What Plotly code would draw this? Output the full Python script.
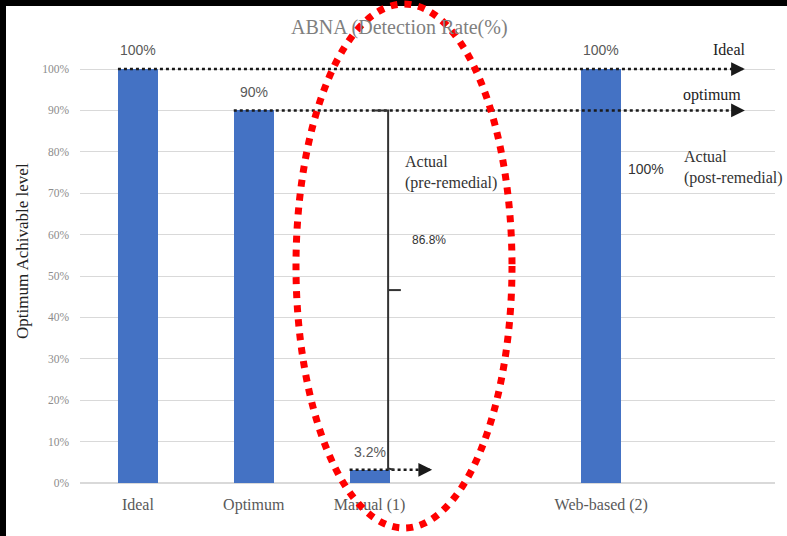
import plotly.graph_objects as go

# ---- data ----
categories = ["Ideal", "Optimum", "Manual (1)", "Web-based (2)"]
cat_pos = [0, 1, 2, 4]
values = [100, 90, 3.2, 100]
value_labels = ["100%", "90%", "3.2%", "100%"]
ideal_level = 100
optimum_level = 90
manual_level = 3.2
gap_label = "86.8%"
post_label = "100%"
y_ticks = [0, 10, 20, 30, 40, 50, 60, 70, 80, 90, 100]

BAR_W = 0.345
SERIF = "Liberation Serif, Times New Roman, serif"
SANS = "Liberation Sans, Arial, sans-serif"
DOT = "#1a1a1a"

fig = go.Figure()

fig.add_trace(go.Bar(x=cat_pos, y=values, width=BAR_W, marker_color="#4472C4",
                     marker_line_width=0, showlegend=False, hoverinfo="skip"))

# dotted reference lines
def dotted(x0, x1, y):
    fig.add_trace(go.Scatter(x=[x0, x1], y=[y, y], mode="lines",
                             line=dict(color=DOT, width=2.5, dash="dot"),
                             showlegend=False, hoverinfo="skip"))

end_x = 5.22
dotted(cat_pos[0] - BAR_W / 2, end_x, ideal_level)
dotted(cat_pos[1] - BAR_W / 2, end_x, optimum_level)
dotted(cat_pos[2] - BAR_W / 2, 2.52, manual_level)

# bracket
bx = 2.16
mid = (optimum_level + manual_level) / 2
fig.add_trace(go.Scatter(
    x=[2.04, bx, bx, None, bx, 2.27, None, bx, 2.21],
    y=[optimum_level, optimum_level, manual_level, None, mid, mid, None,
       manual_level + 0.3, manual_level],
    mode="lines", line=dict(color="#333333", width=2),
    showlegend=False, hoverinfo="skip"))

annotations = []
# arrow heads
for (x, y) in [(end_x + 0.02, ideal_level), (end_x + 0.02, optimum_level), (2.54, manual_level)]:
    annotations.append(dict(x=x, y=y, xref="x", yref="y", ax=-8, ay=0, text="",
                            showarrow=True, arrowhead=2, arrowsize=1.1, arrowwidth=2.5,
                            arrowcolor=DOT))

# bar value labels
label_y = [104.6, 94.4, 7.5, 104.6]
for xp, lab, ly in zip(cat_pos, value_labels, label_y):
    annotations.append(dict(x=xp, y=ly, xref="x", yref="y", text=lab, showarrow=False,
                            font=dict(family=SANS, size=14, color="#595959")))

annotations += [
    dict(x=5.11, y=104.6, text="Ideal", font=dict(family=SERIF, size=16, color="#222")),
    dict(x=4.96, y=93.7, text="optimum", font=dict(family=SERIF, size=16, color="#222")),
    dict(x=2.29, y=75.1, text="Actual<br>(pre-remedial)", xanchor="left", align="left",
         font=dict(family=SERIF, size=16, color="#333")),
    dict(x=2.35, y=58.7, text=gap_label, xanchor="left",
         font=dict(family=SANS, size=12, color="#333")),
    dict(x=4.215, y=75.8, text=post_label, xanchor="left",
         font=dict(family=SANS, size=14, color="#333")),
    dict(x=4.70, y=76.3, text="Actual<br>(post-remedial)", xanchor="left", align="left",
         font=dict(family=SERIF, size=16, color="#333")),
]
for a in annotations[-6:]:
    a.update(xref="x", yref="y", showarrow=False)

# title and y-axis title (paper coords: px -> (px-80)/695, py -> (483-py)/443)
annotations.append(dict(x=(399 - 80) / 695, y=(483 - 28) / 443, xref="paper", yref="paper",
                        text="ABNA (Detection Rate(%)", showarrow=False, yanchor="middle",
                        font=dict(family=SERIF, size=20, color="#7f7f7f")))
annotations.append(dict(x=(22 - 80) / 695, y=(483 - 251) / 443, xref="paper", yref="paper",
                        text="Optimum Achivable level", showarrow=False, textangle=-90,
                        xanchor="center", yanchor="middle",
                        font=dict(family=SERIF, size=17, color="#222")))

shapes = [
    # black frame strips (top and left)
    dict(type="rect", xref="paper", yref="paper", x0=-0.2, x1=1.2,
         y0=(483 - 6) / 443, y1=1.3, fillcolor="black", line_width=0, layer="above"),
    dict(type="rect", xref="paper", yref="paper", x0=-0.2, x1=(6 - 80) / 695,
         y0=-0.3, y1=1.3, fillcolor="black", line_width=0, layer="above"),
    # red dotted ellipse
    dict(type="circle", xref="paper", yref="paper",
         x0=(296 - 80) / 695, x1=(512 - 80) / 695,
         y0=(483 - 528) / 443, y1=(483 - 4) / 443,
         line=dict(color="#ff0000", width=7, dash="dot"), layer="above"),
]

fig.update_layout(
    width=787, height=536,
    margin=dict(l=80, r=12, t=40, b=53),
    plot_bgcolor="white", paper_bgcolor="white",
    bargap=0,
    annotations=annotations, shapes=shapes,
    xaxis=dict(range=[-0.5, 5.5], tickmode="array", tickvals=cat_pos, ticktext=categories,
               showgrid=False, zeroline=False, showline=False, ticks="",
               ticklabelstandoff=10,
               tickfont=dict(family=SERIF, size=16, color="#595959")),
    yaxis=dict(range=[0, (483 - 40) / 4.14], tickmode="array", tickvals=y_ticks,
               ticktext=[f"{v}%" for v in y_ticks], showgrid=True, gridcolor="#d9d9d9",
               gridwidth=1, zeroline=True, zerolinecolor="#d9d9d9", showline=False,
               ticks="", ticklabelstandoff=10,
               tickfont=dict(family=SERIF, size=11.5, color="#8c8c8c")),
)

fig.write_html("out.html")
